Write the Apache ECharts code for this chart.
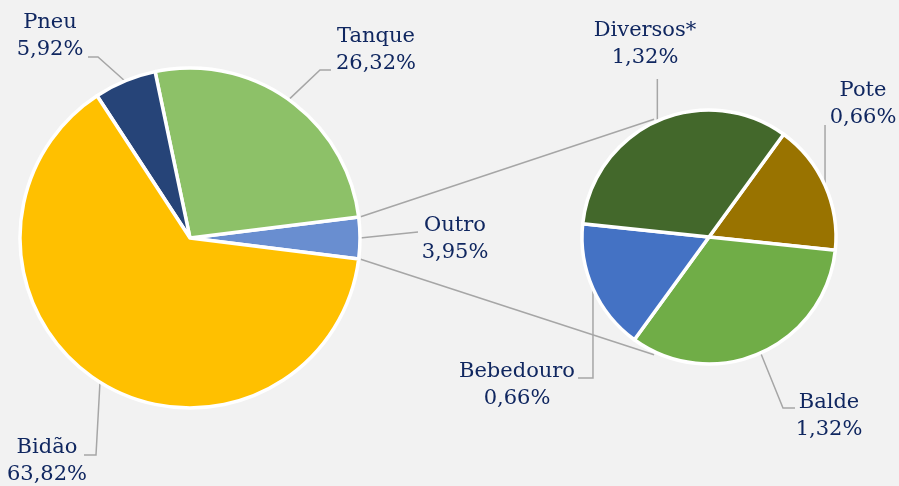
<!DOCTYPE html>
<html>
<head>
<meta charset="utf-8">
<script src="https://cdn.jsdelivr.net/npm/echarts@6/dist/echarts.min.js"></script>
<style>
  html, body { margin: 0; padding: 0; background: #f2f2f2; }
  #chart { width: 899px; height: 486px; }
</style>
</head>
<body>
<div id="chart"></div>
<script>
// main pie
const mainNames = ['Outro', 'Tanque', 'Pneu', 'Bidão']
const mainValues = [3.95, 26.32, 5.92, 63.82]
const mainColors = ['#698ed0', '#8dc168', '#264478', '#ffc000']
// breakdown of "Outro"
const subNames = ['Pote', 'Balde', 'Bebedouro', 'Diversos*']
const subValues = [0.66, 1.32, 0.66, 1.32]
const subColors = ['#997300', '#70ad47', '#4472c4', '#43682b']

const textColor = '#102760'
const lineColor = '#a6a6a6'
const C1 = [190, 238], R1 = 170
const C2 = [709, 237], R2 = 127

// where each label sits, and the elbow of its leader line
const labelSpots = {
    'Pneu': { x: 50, y: 36, pts: [[98, 57], [88, 57]] },
    'Tanque': { x: 376, y: 50, pts: [[320, 70], [331, 70]] },
    'Outro': { x: 455, y: 239, pts: [[418, 232]] },
    'Bidão': { x: 47, y: 461, pts: [[96, 455], [84, 455]] },
    'Diversos*': { x: 645, y: 44, up: 79 },
    'Pote': { x: 863, y: 104, up: 125 },
    'Bebedouro': { x: 517, y: 385, down: 378, endX: 578 },
    'Balde': { x: 829, y: 416, pts: [[783, 408], [795, 408]] }
}

const fmt = v => v.toFixed(2).replace('.', ',') + '%'

function layoutLabel(names) {
    return function (params) {
        const spot = labelSpots[names[params.dataIndex]]
        const p0 = params.labelLinePoints ? params.labelLinePoints[0] : [spot.x, spot.y]
        let pts
        if (spot.pts) pts = [p0].concat(spot.pts)
        else if (spot.up) pts = [p0, [p0[0], spot.up]]
        else pts = [p0, [p0[0], spot.down], [spot.endX, spot.down]]
        return {
            x: spot.x, y: spot.y,
            align: 'center', verticalAlign: 'middle',
            labelLinePoints: pts
        }
    }
}

const labelStyle = {
    show: true,
    position: 'outside',
    color: textColor,
    fontFamily: 'DejaVu Serif',
    fontSize: 21,
    lineHeight: 27,
    align: 'center'
}

// the two connector lines from the edges of "Outro" to the second pie
const half = mainValues[0] / 100 * 180 * Math.PI / 180
const joinAng = 115 * Math.PI / 180
const connectors = [1, -1].map(s => ({
    type: 'line',
    z: 0,
    shape: {
        x1: C1[0] + (R1 + 2) * Math.cos(half),
        y1: C1[1] - s * (R1 + 2) * Math.sin(half),
        x2: C2[0] + (R2 + 3) * Math.cos(joinAng),
        y2: C2[1] - s * (R2 + 3) * Math.sin(joinAng)
    },
    style: { stroke: lineColor, lineWidth: 1.5 }
}))

const chart = echarts.init(document.getElementById('chart'))
chart.setOption({
    backgroundColor: '#f2f2f2',
    animation: false,
    graphic: connectors,
    series: [
        {
            type: 'pie',
            center: C1,
            radius: R1,
            startAngle: -mainValues[0] / 100 * 180,
            clockwise: false,
            avoidLabelOverlap: false,
            itemStyle: { borderColor: '#fff', borderWidth: 3.5 },
            label: Object.assign({}, labelStyle, { formatter: p => p.name + '\n' + fmt(p.value) }),
            labelLine: { show: true, lineStyle: { color: lineColor, width: 1.5 } },
            labelLayout: layoutLabel(mainNames),
            data: mainNames.map((n, i) => ({ name: n, value: mainValues[i], itemStyle: { color: mainColors[i] } }))
        },
        {
            type: 'pie',
            center: C2,
            radius: R2,
            startAngle: 54,
            clockwise: true,
            avoidLabelOverlap: false,
            itemStyle: { borderColor: '#fff', borderWidth: 3.5 },
            label: Object.assign({}, labelStyle, { formatter: p => p.name + '\n' + fmt(p.value) }),
            labelLine: { show: true, lineStyle: { color: lineColor, width: 1.5 } },
            labelLayout: layoutLabel(subNames),
            data: subNames.map((n, i) => ({ name: n, value: subValues[i], itemStyle: { color: subColors[i] } }))
        }
    ]
})
</script>
</body>
</html>
